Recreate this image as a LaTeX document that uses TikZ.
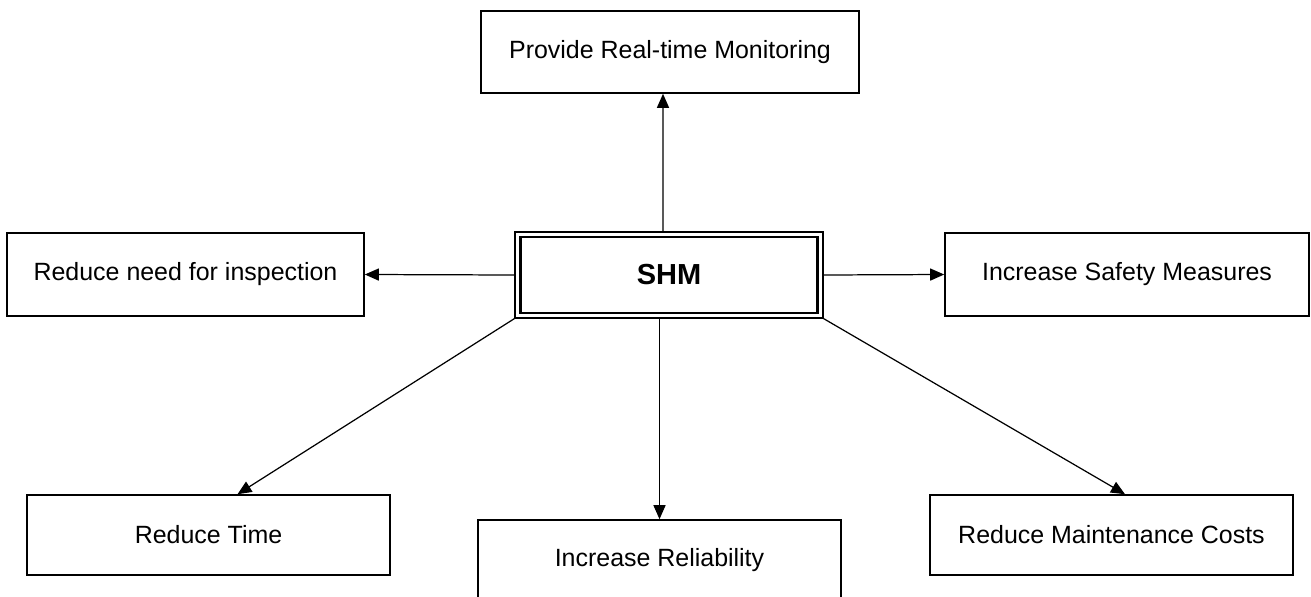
\documentclass[tikz,border=0pt]{standalone}
\usepackage{fontspec}
\setmainfont{Liberation Sans}
\usepackage{tikz}
\usetikzlibrary{arrows.meta,positioning}

\begin{document}
\begin{tikzpicture}[font=\fontsize{14.2}{17}\selectfont,
	goal/.style={draw, line width=0.9pt, minimum width=7.26cm, minimum height=1.6cm, inner sep=0pt},
	arr/.style={-{Triangle[length=0.28cm,width=0.24cm]}, line width=0.7pt}]
	\useasboundingbox (0,0) rectangle (26.22,-11.92);
	% centre block with double frame
	\node[draw, line width=1.2pt, minimum width=5.94cm, minimum height=1.52cm, inner sep=0pt, font=\fontsize{16.5}{19}\selectfont\bfseries] (shm) at (13.38,-5.50) {SHM};
	\node[draw, line width=0.7pt, minimum width=6.16cm, minimum height=1.72cm, inner sep=0pt] (shmframe) at (13.38,-5.50) {};
	% outcomes
	\node[goal, minimum width=7.56cm, minimum height=1.64cm] (mon) at (13.40,-1.04) {Provide Real-time Monitoring};
	\node[goal, minimum width=7.14cm, minimum height=1.66cm] (insp) at (3.71,-5.49) {Reduce need for inspection};
	\node[goal, minimum width=7.28cm, minimum height=1.66cm] (safe) at (22.54,-5.49) {Increase Safety Measures};
	\node[goal] (time) at (4.17,-10.70) {Reduce Time};
	\node[goal] (rel) at (13.19,-11.20) {Increase Reliability};
	\node[goal] (cost) at (22.23,-10.70) {Reduce Maintenance Costs};
	% connectors
	\draw[arr] ([xshift=-0.12cm]shmframe.north) -- ([xshift=-0.14cm]mon.south);
	\draw[arr] (shmframe.west) -- (insp.east);
	\draw[arr] (shmframe.east) -- (safe.west);
	\draw[arr] (shmframe.south -| rel.north) -- (rel.north);
	\draw[arr] (shmframe.south west) -- ([xshift=0.58cm]time.north);
	\draw[arr] (shmframe.south east) -- ([xshift=0.27cm]cost.north);
\end{tikzpicture}
\end{document}
